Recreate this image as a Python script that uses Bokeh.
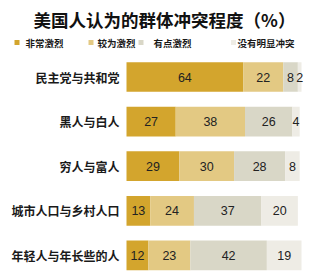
from bokeh.plotting import figure
from bokeh.models import ColumnDataSource, Range1d
from bokeh.core.properties import value
from bokeh.embed import file_html
from bokeh.resources import INLINE
import numpy as np

# ---------------- data ----------------
categories = ["民主党与共和党", "黑人与白人", "穷人与富人", "城市人口与乡村人口", "年轻人与年长些的人"]
very_strong = [64, 27, 29, 13, 12]
somewhat_strong = [22, 38, 30, 24, 23]
not_very_strong = [8, 26, 28, 37, 42]
no_conflict = [2, 4, 8, 20, 19]
series_labels = ["非常激烈", "较为激烈", "有点激烈", "没有明显冲突"]
title_text = "美国人认为的群体冲突程度（%）"

# ---------------- layout (pixels) ----------------
W, H = 309, 274
X0 = 126          # pixel where value 0 sits
PXU = 1.823       # pixels per percentage point
Y0 = 76.5         # pixel centre of first bar
STEP = 44.6       # pixels between bars

colors = ["#D3A52D", "#E3C983", "#D9D7C7", "#EEECE5"]
CJK = "Noto Sans CJK SC"

def px2x(px):
    return (px - X0) / PXU

def py2y(py):
    return (py - Y0) / STEP

p = figure(width=W, height=H, output_backend="svg", toolbar_location=None,
           x_range=Range1d(px2x(0), px2x(W)), y_range=Range1d(py2y(H), py2y(0)),
           x_axis_type=None, y_axis_type=None, min_border=0,
           outline_line_color=None, background_fill_color="white",
           border_fill_color="white")
p.grid.visible = False

keys = ["s0", "s1", "s2", "s3"]
data = dict(idx=list(range(len(categories))), cat=categories,
            s0=very_strong, s1=somewhat_strong, s2=not_very_strong, s3=no_conflict)
src = ColumnDataSource(data)
p.hbar_stack(keys, y="idx", height=0.665, color=colors, line_color=None, source=src)

# value labels centred in segments
vals = np.array([very_strong, somewhat_strong, not_very_strong, no_conflict], dtype=float)
cum = np.cumsum(vals, axis=0)
mids = cum - vals / 2
lx, ly, lt = [], [], []
for s in range(vals.shape[0]):
    for i in range(vals.shape[1]):
        lx.append(mids[s, i]); ly.append(i); lt.append(str(int(vals[s, i])))
p.text(x=lx, y=ly, text=lt, text_align="center", text_baseline="middle",
       text_font=value("Liberation Sans"), text_font_size="12.5px", text_color="#222222")

# category labels
p.text(x=[0] * len(categories), y=list(range(len(categories))), text=categories,
       x_offset=-7, text_align="right", text_baseline="middle",
       text_font=value(CJK), text_font_size="12px", text_font_style="bold",
       text_color="#1a1a1a")

# title
p.text(x=[px2x(164)], y=[py2y(19)], text=[title_text], text_align="center",
       text_baseline="middle", text_font=value(CJK), text_font_size="17.5px",
       text_font_style="bold", text_color="#111111")

# legend
sq_px = [16.5, 90.5, 140.5, 233]
tx_px = [25, 97, 153, 237]
ly_px = 42
p.scatter(x=[px2x(v) for v in sq_px], y=[py2y(ly_px)] * 4, marker="square",
          size=5, color=colors, line_color=None)
p.text(x=[px2x(v) for v in tx_px], y=[py2y(ly_px)] * 4, text=series_labels,
       text_align="left", text_baseline="middle", text_font=value(CJK),
       text_font_size="9.5px", text_font_style="bold", text_color="#1a1a1a")

open("out.html", "w").write(file_html(p, INLINE))
